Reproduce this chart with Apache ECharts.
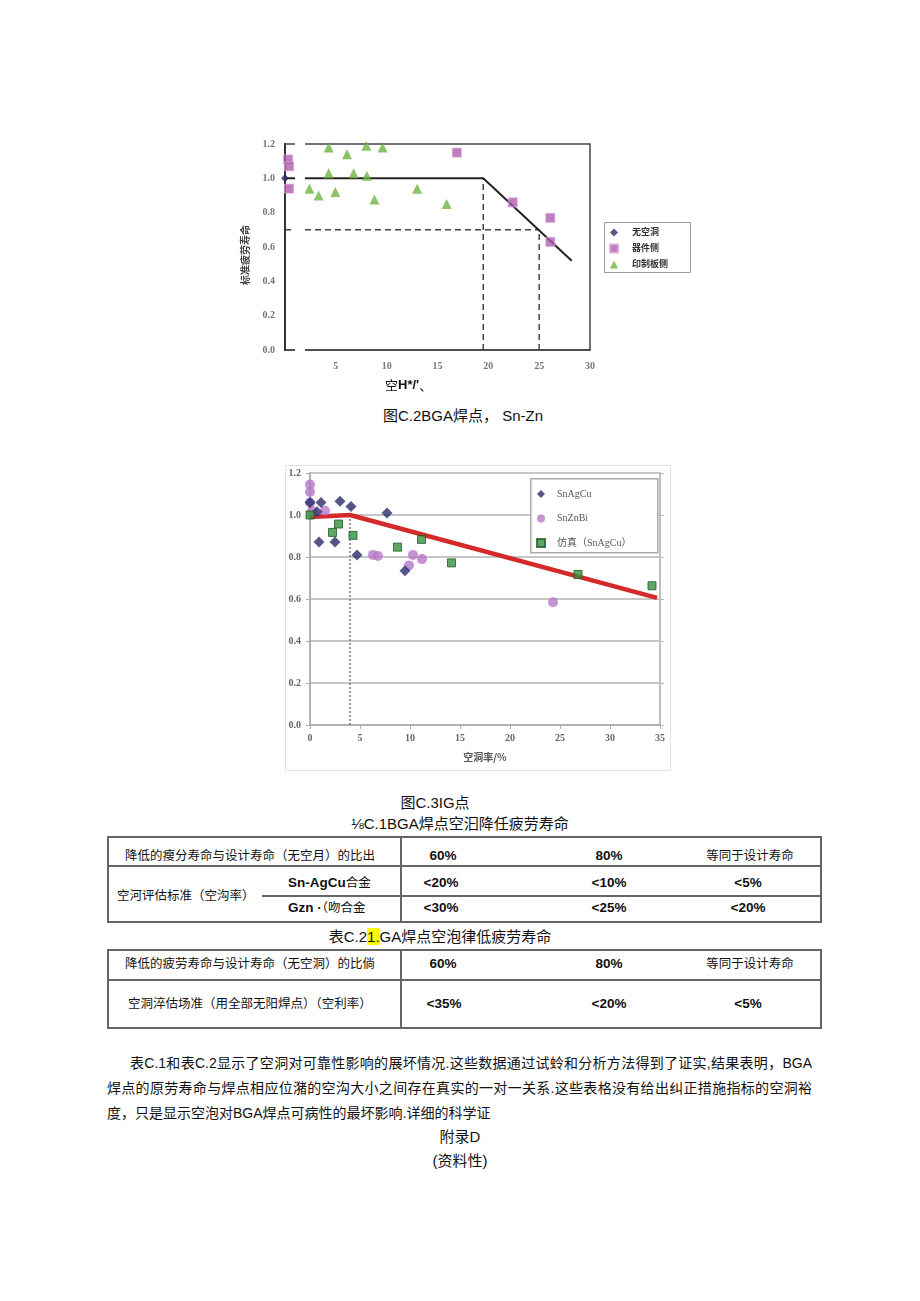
<!DOCTYPE html>
<html><head><meta charset="utf-8">
<script src="https://cdn.jsdelivr.net/npm/echarts@6/dist/echarts.min.js"></script>
<style>
html,body{margin:0;padding:0;background:#fff;}
body{width:920px;height:1301px;position:relative;overflow:hidden;font-family:"Liberation Sans","Noto Sans CJK SC",sans-serif;color:#111;}
.t{position:absolute;white-space:nowrap;font-size:15px;line-height:20px;}
.p{position:absolute;white-space:nowrap;font-size:14px;line-height:20px;}
.c{text-align:center;}
.tb{position:absolute;white-space:nowrap;font-size:12.5px;line-height:20px;text-align:center;}
.b{font-weight:bold;font-size:13.5px;}
.hl{position:absolute;background:#666;}
.vl{position:absolute;background:#666;}
.j{text-align:justify;text-align-last:justify;}
mark{background:#ffff00;color:#111;padding:0;}
</style></head>
<body>
<div id="c1" style="position:absolute;left:230px;top:130px;width:480px;height:275px;"></div>
<div id="c2" style="position:absolute;left:270px;top:458px;width:410px;height:320px;"></div>

<div class="t c" style="left:263px;width:400px;top:406px;">图C.2BGA焊点， Sn-Zn</div>
<div class="t c" style="left:235px;width:400px;top:793px;">图C.3IG点</div>
<div class="t c" style="left:260px;width:400px;top:814px;">⅛C.1BGA焊点空汩降任疲劳寿命</div>

<!-- table 1 -->
<div class="hl" style="left:107px;width:715px;top:836px;height:1.5px;"></div>
<div class="hl" style="left:107px;width:715px;top:865px;height:1.5px;"></div>
<div class="hl" style="left:262px;width:560px;top:895px;height:1.5px;"></div>
<div class="hl" style="left:107px;width:715px;top:921px;height:1.5px;"></div>
<div class="vl" style="left:107px;top:836px;width:1.5px;height:86px;"></div>
<div class="vl" style="left:400px;top:836px;width:1.5px;height:86px;"></div>
<div class="vl" style="left:820px;top:836px;width:1.5px;height:86px;"></div>
<div class="tb" style="left:110px;width:280px;top:846px;">降低的瘦分寿命与设计寿命（无空月）的比出</div>
<div class="tb b" style="left:393px;width:100px;top:846px;">60%</div>
<div class="tb b" style="left:559px;width:100px;top:846px;">80%</div>
<div class="tb" style="left:680px;width:140px;top:846px;">等同于设计寿命</div>
<div class="tb" style="left:117px;top:886px;text-align:left;">空河评估标准（空沟率）</div>
<div class="tb" style="left:288px;top:873px;text-align:left;"><span class="b">Sn-AgCu</span>合金</div>
<div class="tb" style="left:288px;top:898px;text-align:left;"><span class="b">Gzn ·</span>（吻合金</div>
<div class="tb b" style="left:391px;width:100px;top:873px;">&lt;20%</div>
<div class="tb b" style="left:559px;width:100px;top:873px;">&lt;10%</div>
<div class="tb b" style="left:698px;width:100px;top:873px;">&lt;5%</div>
<div class="tb b" style="left:391px;width:100px;top:898px;">&lt;30%</div>
<div class="tb b" style="left:559px;width:100px;top:898px;">&lt;25%</div>
<div class="tb b" style="left:698px;width:100px;top:898px;">&lt;20%</div>

<div class="t c" style="left:240px;width:400px;top:927px;">表C.2<mark>1.</mark>GA焊点空泡律低疲劳寿命</div>

<!-- table 2 -->
<div class="hl" style="left:107px;width:715px;top:949px;height:1.5px;"></div>
<div class="hl" style="left:107px;width:715px;top:979px;height:1.5px;"></div>
<div class="hl" style="left:107px;width:715px;top:1027px;height:1.5px;"></div>
<div class="vl" style="left:107px;top:949px;width:1.5px;height:79px;"></div>
<div class="vl" style="left:400px;top:949px;width:1.5px;height:79px;"></div>
<div class="vl" style="left:820px;top:949px;width:1.5px;height:79px;"></div>
<div class="tb" style="left:110px;width:280px;top:954px;">降低的疲劳寿命与设计寿命（无空洞）的比倘</div>
<div class="tb b" style="left:393px;width:100px;top:954px;">60%</div>
<div class="tb b" style="left:559px;width:100px;top:954px;">80%</div>
<div class="tb" style="left:680px;width:140px;top:954px;">等同于设计寿命</div>
<div class="tb" style="left:110px;width:280px;top:994px;">空洞淬估场准（用全部无阳焊点）（空利率）</div>
<div class="tb b" style="left:394px;width:100px;top:994px;">&lt;35%</div>
<div class="tb b" style="left:559px;width:100px;top:994px;">&lt;20%</div>
<div class="tb b" style="left:698px;width:100px;top:994px;">&lt;5%</div>

<!-- paragraph -->
<div class="p j" style="left:130px;width:682px;top:1053px;">表C.1和表C.2显示了空洞对可靠性影响的展坏情况.这些数据通过试蛉和分析方法得到了证实,结果表明，BGA</div>
<div class="p j" style="left:107px;width:705px;top:1078px;">焊点的原劳寿命与焊点相应位潴的空沟大小之间存在真实的一对一关系.这些表格没有给出纠正措施指标的空洞裕</div>
<div class="p" style="left:107px;top:1103px;">度，只是显示空泡对BGA焊点可病性的最坏影响.详细的科学证</div>
<div class="t c" style="left:260px;width:400px;top:1127px;">附录D</div>
<div class="t c" style="left:260px;width:400px;top:1151px;">(资料性)</div>

<script>
// ---------- Chart 1 data (图C.2) ----------
const c1XTicks = [5, 10, 15, 20, 25, 30];
const c1YTicks = [0.0, 0.2, 0.4, 0.6, 0.8, 1.0, 1.2];
const c1Names = ['无空洞', '器件侧', '印制板侧'];
const c1NoVoid = [[0, 1.0]];
const c1Device = [[0.3, 1.11], [0.4, 1.07], [0.4, 0.94], [16.9, 1.15], [22.4, 0.86], [26.1, 0.77], [26.1, 0.63]];
const c1Board = [[4.3, 1.18], [6.1, 1.14], [8.0, 1.19], [9.6, 1.18], [4.3, 1.03], [6.75, 1.03], [8.05, 1.015],
                 [2.4, 0.94], [3.3, 0.90], [4.95, 0.92], [8.8, 0.877], [13.0, 0.94], [15.9, 0.85]];
const c1Fit = [[0, 1.0], [19.5, 1.0], [28.2, 0.52]];
const c1H07 = [[0, 0.7], [25, 0.7]];
const c1V195 = [[19.5, 0], [19.5, 1.0]];
const c1V25 = [[25, 0], [25, 0.7]];

// ---------- Chart 2 data (图C.3) ----------
const c2Names = ['SnAgCu', 'SnZnBi', '仿真（SnAgCu）'];
const c2SnAgCu = [[0, 1.06], [0.7, 1.015], [1.1, 1.06], [3.0, 1.065], [4.1, 1.04], [7.7, 1.01],
                  [0.9, 0.872], [2.5, 0.872], [4.7, 0.81], [9.5, 0.735]];
const c2SnZnBi = [[0, 1.145], [0, 1.11], [0, 1.06], [0.2, 1.02], [1.5, 1.02], [6.3, 0.81], [6.8, 0.805],
                  [9.9, 0.76], [10.3, 0.81], [11.2, 0.79], [24.3, 0.585]];
const c2Sim = [[0, 1.0], [2.25, 0.917], [2.85, 0.957], [4.3, 0.903], [8.75, 0.847], [11.15, 0.884],
               [14.15, 0.772], [26.8, 0.717], [34.2, 0.663]];
const c2Fit = [[0, 0.99], [4, 1.0], [34.7, 0.605]];
const c2V4 = [[4, 0], [4, 1.0]];

const serif = '"Liberation Serif","Noto Sans CJK SC",serif';

const ch1 = echarts.init(document.getElementById('c1'), null, {renderer: 'canvas'});
ch1.setOption({
  animation: false,
  grid: {left: 55, top: 14, width: 305, height: 206, show: true, borderColor: '#444', borderWidth: 1.5, backgroundColor: 'transparent'},
  xAxis: {type: 'value', min: 0, max: 30, interval: 5,
    axisLine: {show: true, lineStyle: {color: '#444', width: 1.5}}, axisTick: {show: false}, splitLine: {show: false},
    axisLabel: {color: '#777', fontFamily: serif, fontSize: 10, fontWeight: 'bold', margin: 11,
      formatter: v => c1XTicks.indexOf(v) >= 0 ? String(v) : ''}},
  yAxis: {type: 'value', min: 0, max: 1.2, interval: 0.2,
    axisLine: {show: true, lineStyle: {color: '#333', width: 2}}, axisTick: {show: false}, splitLine: {show: false},
    axisLabel: {color: '#777', fontFamily: serif, fontSize: 10, fontWeight: 'bold', margin: 10,
      formatter: v => c1YTicks.some(t => Math.abs(t - v) < 1e-6) ? v.toFixed(1) : ''}},
  legend: {data: c1Names, orient: 'vertical', left: 379, top: 98, itemWidth: 8, itemHeight: 8, itemGap: 6.5, padding: 0, z: 20,
    textStyle: {fontSize: 9, fontWeight: 'bold', color: '#333', fontFamily: serif, padding: [0, 0, 0, 9]}},
  graphic: [
    {type: 'rect', left: 374, top: 92, z: 10, shape: {width: 86, height: 50}, style: {fill: '#fff', stroke: '#999', lineWidth: 1}},
    {type: 'rect', left: 65, top: 8, z: 100, shape: {width: 10, height: 220}, style: {fill: '#fff'}},
    {type: 'text', left: 155, top: 249, z: 20, style: {text: '{a|空}{b|H*/\'}{a|、}',
      rich: {a: {fontSize: 13, fontFamily: '"Noto Sans CJK SC",sans-serif', fill: '#111'},
             b: {fontSize: 13, fontWeight: 'bold', fontFamily: '"Liberation Sans",sans-serif', fill: '#111'}}}},
    {type: 'text', x: 15, y: 125, rotation: Math.PI / 2, z: 20,
      style: {text: '标准疲劳寿命', fontSize: 10, fontWeight: 'bold', fill: '#444', align: 'center', verticalAlign: 'middle',
        fontFamily: '"Noto Sans CJK SC",sans-serif'}}
  ],
  series: [
    {name: c1Names[0], type: 'scatter', data: c1NoVoid, symbol: 'diamond', symbolSize: 8, z: 5,
      itemStyle: {color: '#2b2d6e'}},
    {name: c1Names[1], type: 'scatter', data: c1Device, symbol: 'rect', symbolSize: 9, z: 5,
      itemStyle: {color: '#b05cae', borderColor: '#d7a6d4', borderWidth: 1}},
    {name: c1Names[2], type: 'scatter', data: c1Board, symbol: 'triangle', symbolSize: 10, z: 5,
      itemStyle: {color: '#6fb443'}},
    {type: 'line', data: c1Fit, symbol: 'none', z: 4, lineStyle: {color: '#222', width: 2}},
    {type: 'line', data: c1H07, symbol: 'none', z: 3, lineStyle: {color: '#444', width: 1.5, type: [6, 4]}},
    {type: 'line', data: c1V195, symbol: 'none', z: 3, lineStyle: {color: '#444', width: 1.5, type: [6, 4]}},
    {type: 'line', data: c1V25, symbol: 'none', z: 3, lineStyle: {color: '#444', width: 1.5, type: [6, 4]}}
  ]
});

const ch2 = echarts.init(document.getElementById('c2'), null, {renderer: 'canvas'});
const c2Label = {color: '#666', fontFamily: serif, fontSize: 10, fontWeight: 'bold'};
ch2.setOption({
  animation: false,
  grid: {left: 40, top: 15, width: 350, height: 252, show: true, borderColor: '#bbb', borderWidth: 1.5},
  xAxis: {type: 'value', min: 0, max: 35, interval: 5,
    axisLine: {show: true, lineStyle: {color: '#aaa', width: 1.5}},
    axisTick: {show: true, length: 4, lineStyle: {color: '#aaa'}}, splitLine: {show: false},
    axisLabel: Object.assign({margin: 8}, c2Label),
    name: '空洞率/%', nameLocation: 'middle', nameGap: 27,
    nameTextStyle: {fontSize: 10, fontWeight: 'bold', color: '#555', fontFamily: '"Noto Sans CJK SC",sans-serif'}},
  yAxis: [
    {type: 'value', min: 0, max: 1.2, interval: 0.2,
      axisLine: {show: true, lineStyle: {color: '#aaa', width: 1.5}},
      axisTick: {show: true, length: 4, lineStyle: {color: '#aaa'}},
      splitLine: {show: true, lineStyle: {color: '#c6c6c6', width: 2}},
      axisLabel: Object.assign({margin: 9, formatter: v => v.toFixed(1)}, c2Label)},
    {type: 'value', min: 0, max: 1.2, interval: 0.2, position: 'right',
      axisLine: {show: true, lineStyle: {color: '#bbb', width: 1.5}},
      axisTick: {show: true, length: 4, lineStyle: {color: '#bbb'}},
      splitLine: {show: false}, axisLabel: {show: false}}
  ],
  legend: {data: c2Names, orient: 'vertical', left: 266, top: 31, itemWidth: 8, itemHeight: 8, itemGap: 14.5, padding: 0, z: 20,
    textStyle: {fontSize: 10, color: '#555', fontFamily: serif, padding: [0, 0, 0, 7]}},
  graphic: [
    {type: 'rect', left: 13, top: 5, z: 0, shape: {width: 385, height: 305}, style: {fill: 'none', stroke: '#e2e2e2', lineWidth: 1}},
    {type: 'rect', left: 260, top: 20, z: 10, shape: {width: 127, height: 74}, style: {fill: '#fff', stroke: '#aaa', lineWidth: 1.5}}
  ],
  series: [
    {type: 'line', data: c2V4, symbol: 'none', z: 2, lineStyle: {color: '#777', width: 1.5, type: [2, 2]}},
    {type: 'line', data: c2Fit, symbol: 'none', z: 3, lineStyle: {color: '#d42a2a', width: 4.5}},
    {name: c2Names[0], type: 'scatter', data: c2SnAgCu, symbol: 'diamond', symbolSize: 11, z: 5,
      itemStyle: {color: '#2b2d6e'}},
    {name: c2Names[1], type: 'scatter', data: c2SnZnBi, symbol: 'circle', symbolSize: 10, z: 4,
      itemStyle: {color: '#b778c9'}},
    {name: c2Names[2], type: 'scatter', data: c2Sim, symbol: 'rect', symbolSize: 8, z: 6,
      itemStyle: {color: '#36913f', borderColor: '#1f5a26', borderWidth: 1}}
  ]
});
</script>
</body></html>
